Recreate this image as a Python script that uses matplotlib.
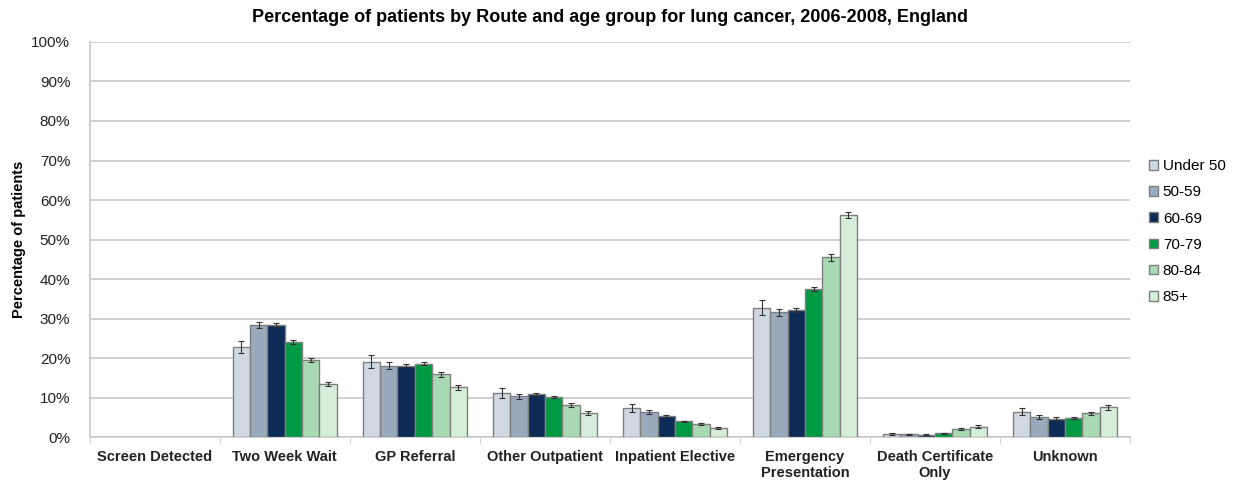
import matplotlib.pyplot as plt
import numpy as np

plt.rcParams['font.family'] = ['Liberation Sans', 'DejaVu Sans']

routes = ['Screen Detected', 'Two Week Wait', 'GP Referral', 'Other Outpatient',
          'Inpatient Elective', 'Emergency\nPresentation', 'Death Certificate\nOnly', 'Unknown']
ages = ['Under 50', '50-59', '60-69', '70-79', '80-84', '85+']

# percentage of patients, one list per age group (in route order)
under50 = [0, 22.9, 19.1, 11.2, 7.4, 32.8, 0.8, 6.4]
age50_59 = [0, 28.4, 18.1, 10.3, 6.4, 31.6, 0.7, 5.1]
age60_69 = [0, 28.4, 18.1, 10.9, 5.3, 32.1, 0.6, 4.7]
age70_79 = [0, 24.1, 18.6, 10.2, 4.0, 37.6, 1.0, 4.9]
age80_84 = [0, 19.5, 15.9, 8.2, 3.3, 45.5, 2.0, 6.0]
age85p = [0, 13.4, 12.6, 6.0, 2.4, 56.2, 2.7, 7.6]

# half-width of confidence intervals
err_under50 = [0, 1.5, 1.6, 1.2, 1.0, 1.8, 0.3, 0.9]
err_50_59 = [0, 0.8, 0.8, 0.6, 0.5, 0.9, 0.2, 0.5]
err_60_69 = [0, 0.6, 0.4, 0.4, 0.3, 0.5, 0.1, 0.3]
err_70_79 = [0, 0.4, 0.4, 0.3, 0.2, 0.5, 0.1, 0.2]
err_80_84 = [0, 0.6, 0.6, 0.5, 0.3, 0.8, 0.3, 0.4]
err_85p = [0, 0.5, 0.6, 0.5, 0.3, 0.8, 0.3, 0.6]

values = [under50, age50_59, age60_69, age70_79, age80_84, age85p]
errors = [err_under50, err_50_59, err_60_69, err_70_79, err_80_84, err_85p]
colors = ['#d0d8e2', '#98aabc', '#0c2b57', '#009a44', '#a8d9b3', '#d6eed9']

fig, ax = plt.subplots(figsize=(12.46, 4.82), dpi=100)
fig.subplots_adjust(left=0.072, right=0.907, top=0.913, bottom=0.093)

x = np.arange(len(routes))
w = 0.8 / len(ages)
for i, (vals, errs, c) in enumerate(zip(values, errors, colors)):
    pos = x - 0.4 + w * (i + 0.5)
    vals = np.array(vals)
    errs = np.array(errs)
    keep = vals > 0  # nothing drawn for empty categories
    ax.bar(pos[keep], vals[keep], w, color=c, edgecolor='#7f7f7f', linewidth=1,
           label=ages[i], zorder=3)
    ax.errorbar(pos[keep], vals[keep], yerr=errs[keep], fmt='none', ecolor='#333333',
                elinewidth=0.8, capsize=2.5, capthick=0.8, zorder=4)

ax.set_xlim(-0.5, len(routes) - 0.5)
ax.set_ylim(0, 100)
ax.set_yticks(np.arange(0, 101, 10))
ax.set_yticklabels([f'{t}%' for t in range(0, 101, 10)], fontsize=11, color='#222222')
ax.yaxis.grid(True, color='#c8c8c8', linewidth=1.2, zorder=0)
ax.tick_params(axis='y', length=0, pad=14)

ax.set_xticks(x)
ax.set_xticklabels(routes, fontsize=10.5, fontweight='bold', color='#222222')
ax.set_xticks(np.arange(-0.5, len(routes), 1), minor=True)
ax.tick_params(axis='x', which='major', length=0, pad=9)
ax.tick_params(axis='x', which='minor', length=4, color='#c8c8c8')

for s in ['top', 'right']:
    ax.spines[s].set_visible(False)
for s in ['left', 'bottom']:
    ax.spines[s].set_color('#c8c8c8')
    ax.spines[s].set_linewidth(1.2)

ax.set_ylabel('Percentage of patients', fontsize=10.5, fontweight='bold', labelpad=4)
ax.set_title('Percentage of patients by Route and age group for lung cancer, 2006-2008, England',
             fontsize=13, fontweight='bold', pad=14)

ax.legend(loc='center left', bbox_to_anchor=(1.005, 0.52), frameon=False, fontsize=11,
          handlelength=0.6, handleheight=0.6, handletextpad=0.3, labelspacing=0.8)

plt.savefig('out.png')
